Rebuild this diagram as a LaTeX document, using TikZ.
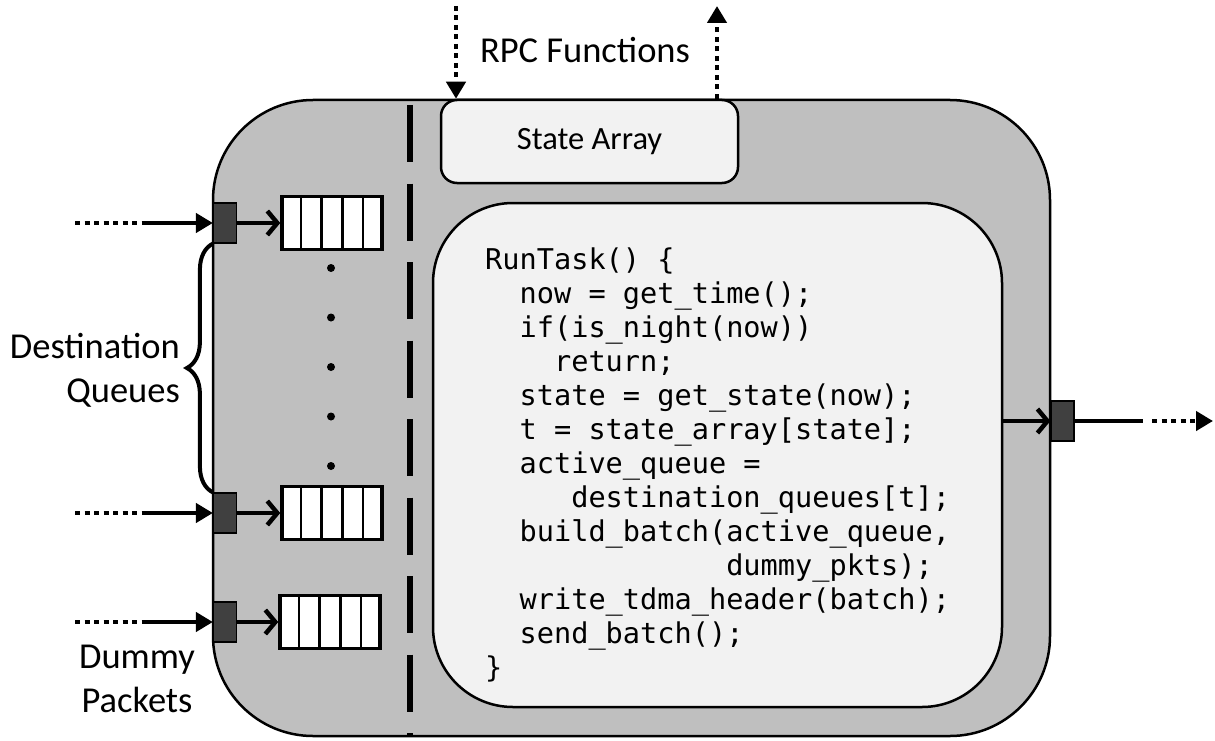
\documentclass[tikz,border=0pt]{standalone}
\usepackage{fontspec}
\setmainfont{Carlito}
\setmonofont{DejaVu Sans Mono}
\usetikzlibrary{arrows.meta, positioning, calc, decorations.pathreplacing}
\definecolor{boxgray}{RGB}{191,191,191}
\definecolor{lightfill}{RGB}{242,242,242}
\definecolor{portgray}{RGB}{64,64,64}

\begin{document}
\begin{tikzpicture}[x=1pt,y=-1pt,
    hostbox/.style={draw, line width=2.5pt, fill=boxgray, rounded corners=100pt, minimum width=837pt, minimum height=636pt, inner sep=0pt},
    codebox/.style={draw, line width=2.5pt, fill=lightfill, rounded corners=80pt, minimum width=569pt, minimum height=504pt, inner sep=0pt},
    stbox/.style={draw, line width=2.5pt, fill=lightfill, rounded corners=16pt, minimum width=297pt, minimum height=83pt, inner sep=0pt, font=\fontsize{32.5}{39}\selectfont},
    portbox/.style={draw, line width=1.2pt, fill=portgray, minimum width=23pt, minimum height=40pt, inner sep=0pt},
    qbox/.style={draw, line width=3.5pt, fill=white, minimum width=100pt, minimum height=53pt, inner sep=0pt},
    dotmark/.style={circle, fill, inner sep=0pt, minimum size=8pt},
    codeline/.style={anchor=base west, inner sep=0pt, font=\ttfamily\fontsize{28.6}{34}\selectfont},
    lbl/.style={inner sep=0pt, font=\fontsize{36.5}{44}\selectfont},
    sep/.style={line width=5.5pt, dash pattern=on 57pt off 21.5pt},
    dots/.style={line width=4.5pt, dash pattern=on 5pt off 4.5pt},
    tip/.style={-{Triangle[length=17pt,width=19pt]}},
    feed/.style={line width=4.5pt, tip},
    push/.style={line width=4.5pt, -{Straight Barb[length=10pt,width=24pt]}},
    grouping/.style={line width=4pt, decorate, decoration={brace, amplitude=26pt}}]
    \useasboundingbox (0,0) rectangle (1215,741);

    % host with state array and task code
    \node[hostbox] (host) at (631.5,418) {};
    \node[stbox] (state) at (589.5,141.5) {State Array};
    \node[codebox] (task) at (717.5,455) {};

    % separator
    \coordinate (sepTop) at (410,105);
    \coordinate (sepBot) at (410,736);
    \draw[sep] (sepTop) -- (sepBot);

    % code of the task
    \foreach \src [count=\i] in {
        RunTask() \{,
        ~~now = get\_time();,
        ~~if(is\_night(now)),
        ~~~~return;,
        ~~state = get\_state(now);,
        ~~t = state\_array[state];,
        ~~active\_queue =,
        ~~~~~destination\_queues[t];,
        {~~build\_batch(active\_queue,},
        ~~~~~~~~~~~~~~dummy\_pkts);,
        ~~write\_tdma\_header(batch);,
        ~~send\_batch();,
        \}}
        \node[codeline] (line\i) at (485,{269+34*(\i-1)}) {\src};

    % ports
    \node[portbox] (inA) at (225,223) {};
    \node[portbox] (inB) at (225,513) {};
    \node[portbox] (inC) at (225,622) {};
    \node[portbox] (out) at (1062.5,421) {};

    % queues
    \node[qbox] (qA) at (332,223) {};
    \node[qbox] (qB) at (332,513) {};
    \node[qbox] (qC) at (330,622) {};
    \foreach \q in {qA,qB,qC}
        \foreach \k in {1,...,4}
            \draw[line width=2.5pt] ($(\q.north west)!\k/5!(\q.north east)$) -- ($(\q.south west)!\k/5!(\q.south east)$);
    \foreach \k in {0,...,4}
        \node[dotmark] (dot\k) at (331,{268+49.5*\k}) {};

    % incoming packets
    \foreach \p/\y in {inA/223,inB/513,inC/622} {
        \coordinate (\p-s) at (75,\y);
        \coordinate (\p-m) at (147,\y);
        \draw[dots] (\p-s) -- (\p-m);
        \draw[feed] (\p-m) -- (\p);
    }
    \draw[push] (inA) -- (qA);
    \draw[push] (inB) -- (qB);
    \draw[push] (inC) -- (qC);

    % outgoing batch
    \coordinate (o1) at (1143,421);
    \coordinate (o2) at (1152,421);
    \coordinate (o3) at (1213,421);
    \draw[push] (task.east |- out.west) -- (out.west);
    \draw[line width=4.5pt] (out) -- (o1);
    \draw[dots, tip] (o2) -- (o3);

    % RPC calls
    \coordinate (rpcIn) at (456,6);
    \coordinate (rpcOut) at (717,6);
    \draw[dots, tip] (rpcIn) -- (rpcIn |- host.north);
    \draw[dots, tip] (rpcOut |- host.north) -- (rpcOut);
    \node[lbl] (rpc) at (585,50) {RPC Functions};

    % labels
    \draw[grouping] (inB.north west) -- (inA.south west);
    \coordinate (braceTip) at (184,370);
    \node[lbl, left=4pt of braceTip, align=right] (destLbl) {Destination\\Queues};
    \node[lbl, align=center] (dummyLbl) at (137,679) {Dummy\\Packets};
\end{tikzpicture}
\end{document}
